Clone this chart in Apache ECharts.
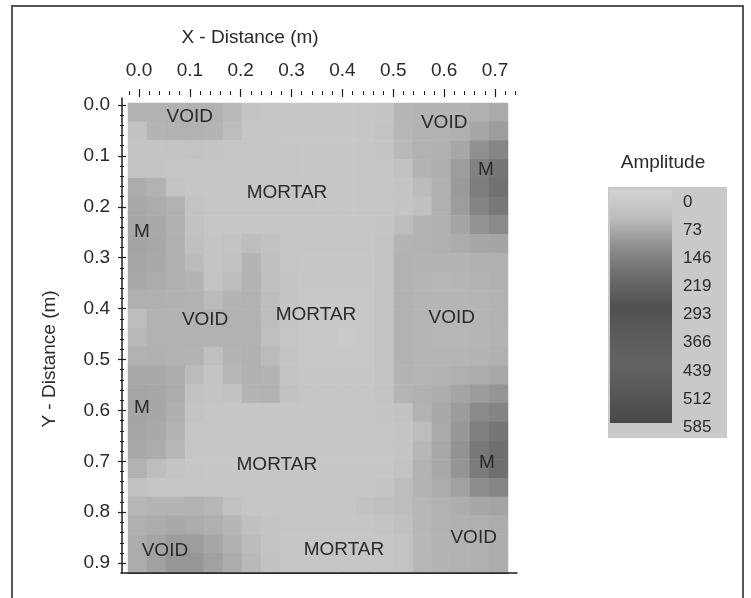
<!DOCTYPE html>
<html>
<head>
<meta charset="utf-8">
<script src="https://cdn.jsdelivr.net/npm/echarts@6/dist/echarts.min.js"></script>
<style>
html,body{margin:0;padding:0;background:#ffffff;}
#c{width:751px;height:598px;}
</style>
</head>
<body>
<div id="c"></div>
<script>
// ---- data ----
// heatmap cell centres (m)
const xCells = ['-0.003','0.034','0.072','0.109','0.147','0.184','0.221','0.259','0.296','0.333',
                '0.371','0.408','0.445','0.483','0.520','0.557','0.595','0.632','0.669','0.707'];
const yCells = ['0.015','0.051','0.088','0.125','0.162','0.199','0.236','0.273','0.310','0.346',
                '0.383','0.420','0.457','0.494','0.531','0.567','0.604','0.641','0.678','0.715',
                '0.752','0.789','0.826','0.862','0.899'];
// amplitude, one row per yCell (top to bottom), one value per xCell
const amp = [
 [ 88, 88, 88, 88, 88, 78, 45, 40, 38, 38, 38, 38, 40, 45, 82, 85, 85, 85, 92,100],
 [ 55, 85, 88, 88, 85, 70, 42, 40, 38, 38, 38, 38, 40, 50, 80, 88, 88, 92,105,120],
 [ 45, 45, 48, 50, 45, 42, 40, 40, 40, 38, 38, 38, 40, 45, 78, 88, 92,105,140,160],
 [ 45, 45, 42, 40, 40, 40, 40, 40, 40, 38, 38, 38, 40, 42, 55, 85, 95,120,170,195],
 [ 98, 88, 50, 42, 40, 40, 40, 40, 40, 40, 38, 38, 40, 42, 45, 75, 92,125,180,205],
 [104, 98, 88, 50, 40, 40, 40, 40, 40, 40, 38, 38, 40, 42, 45, 60, 92,120,165,190],
 [106,102, 90, 55, 42, 40, 40, 40, 40, 40, 40, 40, 40, 45, 70, 88, 92,108,135,150],
 [108,104, 92, 60, 45, 50, 70, 55, 40, 40, 40, 40, 40, 50, 85, 88, 92, 98,105,108],
 [106,102, 92, 75, 45, 55, 85, 60, 40, 38, 38, 38, 38, 50, 88, 86, 85, 86, 90, 92],
 [102, 98, 92, 85, 50, 70, 88, 65, 45, 38, 38, 38, 38, 50, 88, 84, 80, 82, 86, 90],
 [ 92, 92, 90, 88, 75, 86, 88, 70, 45, 35, 35, 35, 35, 50, 88, 84, 82, 82, 84, 88],
 [ 70, 88, 88, 88, 88, 88, 88, 70, 45, 35, 35, 35, 35, 50, 88, 84, 82, 82, 84, 88],
 [ 78, 88, 88, 88, 88, 88, 88, 65, 40, 35, 35, 28, 35, 50, 88, 84, 80, 80, 82, 86],
 [ 88, 90, 88, 86, 60, 86, 90, 75, 45, 35, 35, 35, 35, 50, 88, 84, 84, 84, 85, 90],
 [102,102, 98, 75, 48, 80, 90, 85, 50, 38, 38, 38, 38, 50, 86, 84, 86, 92, 98,102],
 [106,105, 98, 55, 45, 55, 86, 88, 55, 40, 40, 40, 40, 48, 84, 90, 96,108,122,132],
 [108,105, 93, 50, 42, 42, 42, 42, 42, 40, 40, 40, 40, 45, 55, 88,102,122,150,165],
 [106,102, 88, 42, 40, 40, 40, 40, 40, 40, 40, 40, 40, 40, 45, 70,100,128,175,195],
 [102, 98, 80, 42, 40, 40, 40, 40, 40, 40, 40, 40, 40, 40, 45, 80,104,135,190,210],
 [ 88, 70, 50, 40, 38, 38, 38, 38, 38, 38, 38, 38, 38, 38, 50, 88,104,132,185,210],
 [ 55, 42, 40, 40, 40, 40, 40, 40, 40, 40, 40, 40, 40, 45, 70, 88, 98,115,145,160],
 [ 80, 85, 85, 88, 80, 55, 40, 40, 40, 40, 40, 40, 55, 65, 70, 80, 88, 96,105,110],
 [ 92, 98,102, 98, 92, 82, 60, 45, 40, 40, 40, 40, 42, 48, 60, 80, 88, 90, 92, 96],
 [ 98,110,120,120,106, 92, 72, 50, 40, 40, 40, 40, 40, 42, 50, 80, 88, 88, 92, 96],
 [ 98,115,130,130,115, 98, 78, 55, 40, 40, 40, 40, 40, 42, 50, 80, 86, 88, 92, 96]
];
// axis tick labels
const xTicks = [0.0, 0.1, 0.2, 0.3, 0.4, 0.5, 0.6, 0.7];
const yTicks = [0.0, 0.1, 0.2, 0.3, 0.4, 0.5, 0.6, 0.7, 0.8, 0.9];
const ampTicks = [0, 73, 146, 219, 293, 366, 439, 512, 585];
const ampColors = ['#d3d3d3','#bcbcbc','#8c8c8c','#6b6b6b','#515151','#5b5b5b','#636363','#565656','#484848'];
// region annotations
const noteText = ['VOID','VOID','M','MORTAR','M','VOID','MORTAR','VOID','M','MORTAR','M','VOID','MORTAR','VOID'];
const noteX    = [0.100, 0.600, 0.682, 0.291, 0.006, 0.130, 0.348, 0.615, 0.006, 0.271, 0.684, 0.051, 0.403, 0.658];
const noteY    = [0.024, 0.034, 0.128, 0.173, 0.250, 0.422, 0.413, 0.418, 0.595, 0.707, 0.703, 0.876, 0.874, 0.851];

// ---- chart ----
const FONT = 'Liberation Sans';
const TXT = '#2a2a2a';
const AX = '#1e1e1e';

function minorVals(lo, hi, step, majors) {
  const out = [];
  for (let k = Math.ceil(lo / step - 1e-9); k * step <= hi + 1e-9; k++) {
    const v = +(k * step).toFixed(4);
    if (!majors.some(m => Math.abs(m - v) < 1e-6)) out.push(v);
  }
  return out;
}
const X_MIN = -0.0216, X_MAX = 0.7432;
const Y_MIN = -0.01375, Y_MAX = 0.9194;
const xMinor = minorVals(X_MIN, X_MAX, 0.02, xTicks);
const yMinor = minorVals(Y_MIN, Y_MAX, 0.02, yTicks);

const heatData = [];
for (let j = 0; j < yCells.length; j++)
  for (let i = 0; i < xCells.length; i++)
    heatData.push([i, j, amp[j][i]]);

const noteData = noteText.map((t, k) => ({ name: t, value: [noteX[k], noteY[k]] }));

const hidden = { show: false };
const chart = echarts.init(document.getElementById('c'));

const option = {
  animation: false,
  backgroundColor: '#ffffff',
  textStyle: { fontFamily: FONT },
  grid: [
    { left: 128, top: 103, width: 380, height: 469 },   // 0 heatmap
    { left: 128, top: 93, width: 389, height: 480 },    // 1 top x axis
    { left: 122, top: 98, width: 395, height: 475 },    // 2 left y axis
    { left: 610, top: 202, width: 62, height: 225 },    // 3 colour bar labels
    { left: 121, top: 572, width: 387, height: 1 }      // 4 bottom line
  ],
  visualMap: {
    show: false, type: 'continuous', min: 0, max: 585, seriesIndex: 0,
    inRange: { color: ampColors }
  },
  xAxis: [
    { gridIndex: 0, type: 'category', data: xCells, show: false },
    { gridIndex: 0, type: 'value', min: X_MIN, max: 0.7255, show: false },
    { gridIndex: 1, type: 'value', min: X_MIN, max: X_MAX, position: 'top',
      axisLine: { show: true, lineStyle: { color: AX, width: 1.5 } },
      axisTick: { show: false }, splitLine: hidden,
      axisLabel: { customValues: xTicks, formatter: v => v.toFixed(1), margin: 13,
                   fontSize: 19, color: TXT, fontFamily: FONT } },
    { gridIndex: 1, type: 'value', min: X_MIN, max: X_MAX, position: 'top', offset: 4,
      axisLine: hidden, axisLabel: hidden, splitLine: hidden,
      axisTick: { show: true, inside: true, length: 8, customValues: xTicks,
                  lineStyle: { color: AX, width: 1.2 } } },
    { gridIndex: 1, type: 'value', min: X_MIN, max: X_MAX, position: 'top', offset: 2,
      axisLine: hidden, axisLabel: hidden, splitLine: hidden,
      axisTick: { show: true, inside: true, length: 4, customValues: xMinor,
                  lineStyle: { color: AX, width: 1 } } },
    { gridIndex: 2, type: 'value', min: 0, max: 1, show: false },
    { gridIndex: 3, type: 'value', min: 0, max: 1, show: false },
    { gridIndex: 4, type: 'value', min: 0, max: 1, position: 'bottom',
      axisLine: { show: true, lineStyle: { color: AX, width: 1.5 } },
      axisTick: hidden, axisLabel: hidden, splitLine: hidden }
  ],
  yAxis: [
    { gridIndex: 0, type: 'category', data: yCells, inverse: true, show: false },
    { gridIndex: 0, type: 'value', min: -0.0039, max: 0.9175, inverse: true, show: false },
    { gridIndex: 1, type: 'value', min: 0, max: 1, show: false },
    { gridIndex: 2, type: 'value', min: Y_MIN, max: Y_MAX, inverse: true, position: 'left',
      axisLine: { show: true, lineStyle: { color: AX, width: 1.5 } },
      axisTick: { show: false }, splitLine: hidden,
      axisLabel: { customValues: yTicks, formatter: v => v.toFixed(1), margin: 12,
                   fontSize: 19, color: TXT, fontFamily: FONT } },
    { gridIndex: 2, type: 'value', min: Y_MIN, max: Y_MAX, inverse: true, position: 'left', offset: 4,
      axisLine: hidden, axisLabel: hidden, splitLine: hidden,
      axisTick: { show: true, inside: true, length: 8, customValues: yTicks,
                  lineStyle: { color: AX, width: 1.2 } } },
    { gridIndex: 2, type: 'value', min: Y_MIN, max: Y_MAX, inverse: true, position: 'left', offset: 2,
      axisLine: hidden, axisLabel: hidden, splitLine: hidden,
      axisTick: { show: true, inside: true, length: 4, customValues: yMinor,
                  lineStyle: { color: AX, width: 1 } } },
    { gridIndex: 3, type: 'value', min: 0, max: 585, inverse: true, position: 'right',
      axisLine: hidden, axisTick: hidden, splitLine: hidden,
      axisLabel: { customValues: ampTicks, margin: 11, fontSize: 17, color: TXT, fontFamily: FONT } },
    { gridIndex: 4, type: 'value', min: 0, max: 1, show: false }
  ],
  series: [
    { type: 'heatmap', xAxisIndex: 0, yAxisIndex: 0, data: heatData,
      itemStyle: { borderWidth: 0 }, emphasis: { disabled: true }, z: 1 },
    { type: 'scatter', xAxisIndex: 1, yAxisIndex: 1, data: noteData,
      symbol: 'circle', symbolSize: 1, itemStyle: { color: 'rgba(0,0,0,0)' }, z: 5,
      emphasis: { disabled: true },
      label: { show: true, position: 'inside', formatter: '{b}', fontSize: 19,
               color: TXT, fontFamily: FONT, opacity: 1 } }
  ],
  graphic: [
    { type: 'polyline', z: 10, shape: { points: [[12, 598], [12, 6], [743, 6], [743, 598]] },
      style: { stroke: '#555555', lineWidth: 2, fill: null } },
    { type: 'text', x: 250, y: 38, z: 10,
      style: { text: 'X - Distance (m)', fontSize: 19, fontFamily: FONT, fill: TXT,
               align: 'center', verticalAlign: 'middle' } },
    { type: 'text', x: 50, y: 359, rotation: Math.PI / 2, z: 10,
      style: { text: 'Y - Distance (m)', fontSize: 19, fontFamily: FONT, fill: TXT,
               align: 'center', verticalAlign: 'middle' } },
    { type: 'text', x: 663, y: 163, z: 10,
      style: { text: 'Amplitude', fontSize: 19, fontFamily: FONT, fill: TXT,
               align: 'center', verticalAlign: 'middle' } },
    { type: 'rect', z: -10, shape: { x: 608, y: 187, width: 119, height: 251 },
      style: { fill: '#c9c9c9' } },
    { type: 'rect', z: -9, shape: { x: 610, y: 190, width: 62, height: 233 },
      style: { fill: new echarts.graphic.LinearGradient(0, 0, 0, 1,
        ampColors.map((c, k) => ({ offset: k / (ampColors.length - 1), color: c }))) } }
  ]
};
chart.setOption(option);
</script>
</body>
</html>
